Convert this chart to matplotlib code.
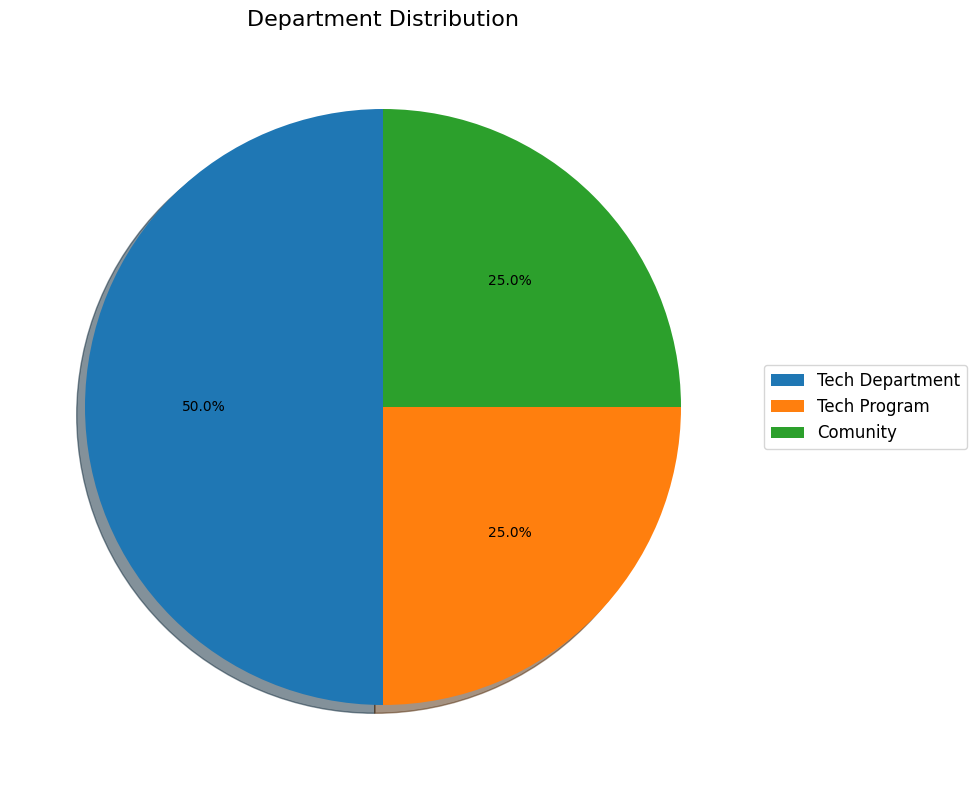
import matplotlib
matplotlib.use("Agg")
import matplotlib.pyplot as plt

# dane
labels = ["Tech Department", "Tech Program", "Comunity"]
counts = [2, 1, 1]

fig = plt.figure(figsize=(9.77, 7.9), dpi=100)
# os wykresu ustawiona tak, by kolo wypadlo jak w oryginale
ax = fig.add_axes([(383 - 372.5) / 977, (790 - 407 - 372.5) / 790, 745 / 977, 745 / 790])

wedges, texts, autotexts = ax.pie(
    counts,
    autopct="%1.1f%%",
    startangle=90,
    shadow=True,
)
ax.set_aspect("equal")
ax.set_title("Department Distribution", fontsize=16)
ax.legend(wedges, labels, loc="center left", bbox_to_anchor=(1, 0.5), fontsize=12)

plt.savefig("out.png", dpi=100)
plt.close()
